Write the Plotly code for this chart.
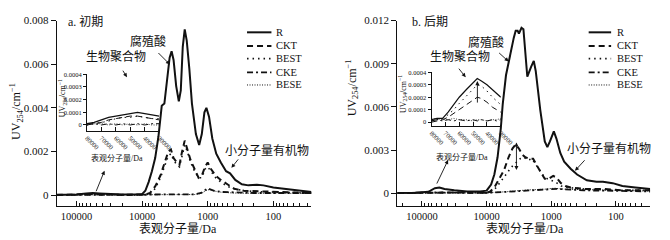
import plotly.graph_objects as go

W, H = 670, 240
FONT = "Liberation Serif, Noto Sans CJK SC, serif"
INK = "#111111"

SERIES = ["R", "CKT", "BEST", "CKE", "BESE"]
X_TICKS = [100000, 10000, 1000, 100]
X_TICKTEXT = ["100000", "10000", "1000", "100"]
YA_TICKS = [0, 0.002, 0.004, 0.006, 0.008]
YA_TICKTEXT = ["0", "0.002", "0.004", "0.006", "0.008"]
YB_TICKS = [0, 0.003, 0.006, 0.009, 0.012]
YB_TICKTEXT = ["0", "0.003", "0.006", "0.009", "0.012"]
IN_X_TICKS = [80000, 70000, 60000, 50000, 40000, 30000]
IN_X_TICKTEXT = ["80000", "70000", "60000", "50000", "40000", "30000"]
IN_Y_TICKS = [0, 0.0001, 0.0002, 0.0003, 0.0004]
IN_Y_TICKTEXT = ["0", "0.0001", "0.0002", "0.0003", "0.0004"]

# ---------------- panel a (初期), main: log10(MW/Da) and UV254 ----------------
a_R_lg = [5.30, 5.00, 4.85, 4.75, 4.65, 4.50, 4.30, 4.10, 4.00, 3.95, 3.90, 3.85, 3.80, 3.75, 3.72, 3.70, 3.66,
          3.62, 3.58, 3.55, 3.52, 3.48, 3.44, 3.41, 3.38, 3.35, 3.32, 3.28, 3.24, 3.18, 3.13, 3.09, 3.05, 3.02,
          2.98, 2.93, 2.87, 2.80, 2.72, 2.66, 2.58, 2.48, 2.38, 2.25, 2.15, 2.00, 1.80, 1.60, 1.42]
a_R = [0.00002, 0.00003, 0.00008, 0.0001, 0.00008, 0.00005, 0.00003, 0.00003, 0.00005, 0.0002, 0.0006, 0.0011,
       0.0017, 0.0027, 0.0037, 0.0041, 0.0042, 0.0052, 0.0063, 0.0066, 0.0062, 0.0050, 0.0043, 0.0048, 0.0068,
       0.0076, 0.0071, 0.0058, 0.0042, 0.0028, 0.0023, 0.0028, 0.0038, 0.0040, 0.0036, 0.0026, 0.0019, 0.0015,
       0.0011, 0.0010, 0.0007, 0.0005, 0.00045, 0.00048, 0.00045, 0.00035, 0.00028, 0.00022, 0.00015]
a_CKT_lg = [5.30, 4.75, 4.30, 4.00, 3.95, 3.88, 3.80, 3.72, 3.66, 3.60, 3.56, 3.52, 3.47, 3.43, 3.39, 3.35, 3.31,
            3.26, 3.20, 3.14, 3.09, 3.04, 3.00, 2.95, 2.88, 2.80, 2.70, 2.60, 2.45, 2.20, 2.00, 1.70, 1.42]
a_CKT = [0.00001, 0.00005, 0.00001, 0.00001, 0.00002, 0.0001, 0.0004, 0.0009, 0.0015, 0.0020, 0.0021, 0.0017,
         0.0015, 0.0014, 0.0020, 0.0025, 0.0021, 0.0016, 0.0012, 0.0008, 0.0009, 0.0013, 0.0015, 0.0012, 0.0009,
         0.0007, 0.0005, 0.0003, 0.0002, 0.00018, 0.00015, 0.00012, 0.0001]
a_BEST_lg = [5.30, 4.75, 4.30, 4.00, 3.94, 3.87, 3.80, 3.72, 3.66, 3.60, 3.56, 3.52, 3.47, 3.43, 3.39, 3.35, 3.31,
             3.26, 3.20, 3.14, 3.09, 3.04, 3.00, 2.95, 2.88, 2.80, 2.70, 2.60, 2.45, 2.20, 2.00, 1.70, 1.42]
a_BEST = [0.00001, 0.00004, 0.00001, 0.00001, 0.00002, 0.0001, 0.0003, 0.0008, 0.0013, 0.0018, 0.0019, 0.0016,
          0.0014, 0.0013, 0.0018, 0.0023, 0.0020, 0.0015, 0.0011, 0.0008, 0.0008, 0.0012, 0.0013, 0.0011, 0.0008,
          0.0006, 0.0004, 0.0003, 0.0002, 0.00016, 0.00014, 0.00011, 0.0001]
a_CKE_lg = [5.30, 4.50, 4.00, 3.50, 3.20, 3.10, 3.05, 3.01, 2.97, 2.90, 2.80, 2.60, 2.30, 2.00, 1.70, 1.42]
a_CKE = [0.00001, 0.00001, 0.00001, 0.00002, 0.00004, 0.0001, 0.0002, 0.0003, 0.00028, 0.0002, 0.00015, 0.00012,
         0.0001, 0.0001, 0.0001, 0.0001]
a_BESE_lg = [5.30, 4.50, 4.00, 3.50, 3.20, 3.10, 3.05, 3.00, 2.95, 2.88, 2.78, 2.60, 2.30, 2.00, 1.70, 1.42]
a_BESE = [0.00001, 0.00001, 0.00001, 0.00002, 0.00003, 0.00008, 0.00016, 0.00025, 0.00024, 0.00018, 0.00013,
          0.0001, 0.00009, 0.00009, 0.00008, 0.00008]

# ---------------- panel b (后期), main ----------------
b_R_lg = [5.38, 5.10, 4.90, 4.80, 4.73, 4.65, 4.50, 4.30, 4.10, 4.00, 3.98, 3.93, 3.88, 3.83, 3.78, 3.75, 3.70,
          3.67, 3.62, 3.58, 3.55, 3.52, 3.50, 3.46, 3.43, 3.40, 3.37, 3.31, 3.27, 3.24, 3.17, 3.10, 3.06, 3.02,
          2.96, 2.92, 2.86, 2.80, 2.70, 2.60, 2.45, 2.30, 2.20, 2.05, 1.90, 1.70, 1.47]
b_R = [0.00002, 0.00003, 0.0001, 0.00035, 0.0004, 0.0003, 0.0002, 0.00012, 0.00012, 0.00018, 0.0003, 0.0006,
       0.0013, 0.0025, 0.0045, 0.0062, 0.0082, 0.0089, 0.0100, 0.0108, 0.0113, 0.0113, 0.0111, 0.0115, 0.0114,
       0.0100, 0.0081, 0.0088, 0.0092, 0.0085, 0.0058, 0.0036, 0.0032, 0.0036, 0.0043, 0.0038, 0.0028, 0.0022,
       0.0017, 0.0013, 0.0009, 0.0008, 0.0008, 0.0007, 0.0005, 0.0004, 0.0003]
b_CKT_lg = [5.38, 4.80, 4.70, 4.50, 4.00, 3.95, 3.88, 3.80, 3.73, 3.66, 3.60, 3.55, 3.50, 3.45, 3.40, 3.34, 3.28,
            3.22, 3.16, 3.10, 3.04, 2.97, 2.92, 2.85, 2.78, 2.70, 2.50, 2.20, 1.90, 1.47]
b_CKT = [0.00001, 0.00005, 0.00008, 0.00005, 0.00003, 0.0001, 0.0004, 0.0010, 0.0016, 0.0025, 0.0031, 0.0034,
         0.0031, 0.0027, 0.0025, 0.0024, 0.0024, 0.0019, 0.0014, 0.0010, 0.0010, 0.0012, 0.0011, 0.0007, 0.0005,
         0.0004, 0.0003, 0.0003, 0.0002, 0.0002]
b_BEST_lg = [5.38, 4.80, 4.70, 4.50, 4.00, 3.92, 3.85, 3.78, 3.70, 3.62, 3.55, 3.48, 3.42, 3.36, 3.30, 3.24, 3.18,
             3.12, 3.06, 3.00, 2.94, 2.85, 2.75, 2.50, 2.20, 1.90, 1.47]
b_BEST = [0.00001, 0.00005, 0.00007, 0.00005, 0.00003, 0.0001, 0.0004, 0.0008, 0.0013, 0.0018, 0.0021, 0.0024,
          0.0025, 0.0023, 0.0024, 0.0020, 0.0016, 0.0012, 0.0010, 0.0009, 0.0008, 0.0005, 0.0004, 0.0003, 0.00025,
          0.0002, 0.0002]
b_CKE_lg = [5.38, 4.80, 4.00, 3.80, 3.50, 3.20, 3.00, 2.90, 2.70, 2.50, 2.20, 1.90, 1.47]
b_CKE = [0.00001, 0.00005, 0.00002, 0.00008, 0.00018, 0.00025, 0.00028, 0.0003, 0.00025, 0.0002, 0.00018,
         0.00015, 0.00012]
b_BESE_lg = [5.38, 4.80, 4.00, 3.70, 3.40, 3.10, 2.95, 2.80, 2.50, 2.20, 1.90, 1.47]
b_BESE = [0.00001, 0.00004, 0.00003, 0.0001, 0.00022, 0.00028, 0.00035, 0.00028, 0.00025, 0.0002, 0.0002, 0.00015]

# ---------------- insets (MW in Da, linear) ----------------
ia_mw = [80000, 75000, 70000, 65000, 60000, 55000, 50000, 45000, 40000, 35000, 30000]
ia_R = [0.00001, 0.00002, 0.00004, 0.00006, 0.00007, 0.00008, 0.00009, 0.0001, 0.00009, 0.00008, 0.00007]
ia_CKT = [0.0, 0.00001, 0.00002, 0.00004, 0.00005, 0.00006, 0.00007, 0.00007, 0.00006, 0.00005, 0.00004]
ia_BEST = [0.0, 0.00001, 0.00002, 0.00003, 0.00005, 0.00006, 0.00006, 0.00007, 0.00006, 0.00005, 0.00005]
ia_CKE = [0.00001, 0.00001, 0.0, 0.00001, 0.0, 0.00001, 0.0, 0.00001, 0.0, 0.00001, 0.00001]
ia_BESE = [0.0, 0.00001, 0.00001, 0.0, 0.00001, 0.0, 0.00001, 0.0, 0.00001, 0.0, 0.0]

ib_mw = [80000, 76000, 72000, 68000, 64000, 60000, 55000, 50000, 47000, 44000, 40000, 36000, 33000, 30000]
ib_R = [0.00002, 0.00003, 0.00003, 0.00008, 0.00014, 0.0002, 0.00026, 0.00032, 0.00035, 0.00033, 0.0003,
        0.00026, 0.00023, 0.0002]
ib_CKT = [0.0, 0.00001, 0.00002, 0.00004, 0.00007, 0.0001, 0.00014, 0.00018, 0.0002, 0.00019, 0.00016, 0.00012,
          0.0001, 0.00008]
ib_BEST = [0.00001, 0.00002, 0.00003, 0.00006, 0.0001, 0.00015, 0.00021, 0.00027, 0.0003, 0.00029, 0.00025,
           0.0002, 0.00017, 0.00014]
ib_CKE = [0.00001, 0.00002, 0.00001, 0.00002, 0.00001, 0.00002, 0.00001, 0.00002, 0.00001, 0.00002, 0.00001,
          0.00002, 0.00001, 0.00002]
ib_BESE = [0.00002, 0.00003, 0.00002, 0.00002, 0.00003, 0.00002, 0.00002, 0.00001, 0.00002, 0.00002, 0.00001,
           0.00002, 0.00002, 0.00003]

A_MAIN = {"R": (a_R_lg, a_R), "CKT": (a_CKT_lg, a_CKT), "BEST": (a_BEST_lg, a_BEST),
          "CKE": (a_CKE_lg, a_CKE), "BESE": (a_BESE_lg, a_BESE)}
B_MAIN = {"R": (b_R_lg, b_R), "CKT": (b_CKT_lg, b_CKT), "BEST": (b_BEST_lg, b_BEST),
          "CKE": (b_CKE_lg, b_CKE), "BESE": (b_BESE_lg, b_BESE)}
A_INSET = {"R": ia_R, "CKT": ia_CKT, "BEST": ia_BEST, "CKE": ia_CKE, "BESE": ia_BESE}
B_INSET = {"R": ib_R, "CKT": ib_CKT, "BEST": ib_BEST, "CKE": ib_CKE, "BESE": ib_BESE}

STYLE = {
    "R": dict(dash="solid", width=2.0),
    "CKT": dict(dash="6px,4px", width=2.0),
    "BEST": dict(dash="1.5px,4px", width=1.6),
    "CKE": dict(dash="6px,3px,2px,3px", width=1.8),
    "BESE": dict(dash="1px,1.5px", width=1.0),
}
INSET_W = {"R": 1.2, "CKT": 1.0, "BEST": 1.0, "CKE": 1.0, "BESE": 0.8}


def P(px, py):
    return px / W, 1 - py / H


fig = go.Figure()

for name in SERIES:
    lg, v = A_MAIN[name]
    fig.add_trace(go.Scatter(x=[10 ** t for t in lg], y=v, mode="lines", name=name, showlegend=False,
                             line=dict(color=INK, **STYLE[name]), xaxis="x", yaxis="y"))
    fig.add_trace(go.Scatter(x=ia_mw, y=A_INSET[name], mode="lines", name=name, showlegend=False,
                             line=dict(color=INK, dash=STYLE[name]["dash"], width=INSET_W[name]),
                             xaxis="x2", yaxis="y2"))
    lg, v = B_MAIN[name]
    fig.add_trace(go.Scatter(x=[10 ** t for t in lg], y=v, mode="lines", name=name, showlegend=False,
                             line=dict(color=INK, **STYLE[name]), xaxis="x3", yaxis="y3"))
    fig.add_trace(go.Scatter(x=ib_mw, y=B_INSET[name], mode="lines", name=name, showlegend=False,
                             line=dict(color=INK, dash=STYLE[name]["dash"], width=INSET_W[name]),
                             xaxis="x4", yaxis="y4"))

minor_vals = [m * 10 ** k for k in range(1, 6) for m in range(2, 10)]


def main_x(dom, anchor, rng):
    return dict(domain=dom, anchor=anchor, type="log", range=rng, showline=True, linecolor=INK, linewidth=1.2,
                ticks="inside", ticklen=5, tickcolor=INK, tickvals=X_TICKS, ticktext=X_TICKTEXT,
                minor=dict(tickvals=minor_vals, ticks="inside", ticklen=3, tickcolor=INK),
                showgrid=False, zeroline=False, tickfont=dict(size=10.5, color=INK, family=FONT))


def main_y(dom, anchor, rng, tv, tt):
    return dict(domain=dom, anchor=anchor, range=rng, showline=True, linecolor=INK, linewidth=1.2,
                ticks="outside", ticklen=5, tickcolor=INK, tickvals=tv, ticktext=tt,
                showgrid=False, zeroline=False, tickfont=dict(size=11, color=INK, family=FONT))


def inset_x(dom, anchor):
    return dict(domain=dom, anchor=anchor, range=[80000, 30000], showline=True, linecolor=INK, linewidth=1,
                ticks="inside", ticklen=4, tickcolor=INK, tickvals=IN_X_TICKS, ticktext=IN_X_TICKTEXT,
                tickangle=45, showgrid=False, zeroline=False, tickfont=dict(size=6.5, color=INK, family=FONT))


def inset_y(dom, anchor, rng):
    return dict(domain=dom, anchor=anchor, range=rng, showline=True, linecolor=INK, linewidth=1,
                ticks="outside", ticklen=3, tickcolor=INK, tickvals=IN_Y_TICKS, ticktext=IN_Y_TICKTEXT,
                showgrid=False, zeroline=False, tickfont=dict(size=6.5, color=INK, family=FONT))


fig.update_layout(
    width=W, height=H, margin=dict(l=0, r=0, t=0, b=0),
    paper_bgcolor="white", plot_bgcolor="rgba(0,0,0,0)",
    font=dict(family=FONT, color=INK, size=11),
    showlegend=False,
    xaxis=main_x([55 / W, 316 / W], "y", [5.30, 1.42]),
    yaxis=main_y([1 - 205 / H, 1 - 15 / H], "x", [-0.00049, 0.008], YA_TICKS, YA_TICKTEXT),
    xaxis2=inset_x([86 / W, 160 / W], "y2"),
    yaxis2=inset_y([1 - 128 / H, 1 - 70 / H], "x2", [-0.000046, 0.0004]),
    xaxis3=main_x([404 / W, 663 / W], "y3", [5.38, 1.47]),
    yaxis3=main_y([1 - 205 / H, 1 - 15 / H], "x3", [-0.00088, 0.012], YB_TICKS, YB_TICKTEXT),
    xaxis4=inset_x([439 / W, 510 / W], "y4"),
    yaxis4=inset_y([1 - 123 / H, 1 - 68 / H], "x4", [-0.00003, 0.0004]),
)

ann = []


def text(px, py, s, size=12, xanchor="center", angle=0):
    x, y = P(px, py)
    ann.append(dict(xref="paper", yref="paper", x=x, y=y, text=s, showarrow=False, xanchor=xanchor,
                    yanchor="middle", textangle=angle, borderpad=0,
                    font=dict(size=size, color=INK, family=FONT)))


def arrow(tail, head, both=False):
    x, y = P(*head)
    ann.append(dict(xref="paper", yref="paper", x=x, y=y, ax=tail[0] - head[0], ay=tail[1] - head[1],
                    text="", showarrow=True, arrowhead=2, arrowsize=0.9, arrowwidth=0.9, arrowcolor=INK,
                    arrowside="end+start" if both else "end", startarrowhead=2, startarrowsize=0.9))


YT = "UV<sub>254</sub>/cm<sup>−1</sup>"
XT = "表观分子量/Da"

# panel a texts
text(66, 16, "a. 初期", 12, "left")
text(149, 36, "腐殖酸", 12)
text(116, 52, "生物聚合物", 12)
text(270, 149, "小分子量有机物", 12)
text(14, 108, YT, 12, angle=-90)
text(179, 229, XT, 12)
text(61, 95, YT, 8, angle=-90)
text(117, 156, XT, 8)
arrow((158, 47), (171, 60))
arrow((122, 65), (127, 73))
arrow((242, 156), (234, 166))
arrow((95, 191), (104, 169))

# panel b texts
text(418, 16, "b. 后期", 12, "left")
text(495, 37, "腐殖酸", 12)
text(468, 52, "生物聚合物", 12)
text(621, 147, "小分子量有机物", 12)
text(358, 84, YT, 12, angle=-90)
text(535, 229, XT, 12)
text(410, 90, YT, 8, angle=-90)
text(470, 155, XT, 8)
arrow((507, 47), (518, 57))
arrow((466, 63), (474, 73))
arrow((597, 157), (586, 169))
arrow((444, 183), (456, 158))
arrow((526, 169), (526, 140), both=True)
arrow((486, 100), (486, 77))

# manual legends
shapes = []
LEG_ROWS = [27, 41, 54, 68, 81]
for (x0, x1, tx) in [(250, 275, 279), (600, 623, 628)]:
    for name, ry in zip(SERIES, LEG_ROWS):
        a0, b0 = P(x0, ry)
        a1, _ = P(x1, ry)
        shapes.append(dict(type="line", xref="paper", yref="paper", x0=a0, x1=a1, y0=b0, y1=b0,
                           line=dict(color=INK, dash=STYLE[name]["dash"], width=STYLE[name]["width"])))
        text(tx, ry, name, 10.5, "left")

fig.update_layout(annotations=ann, shapes=shapes)
fig.write_html("out.html", config={"displayModeBar": False},
               post_script="document.body.style.margin='0';document.body.style.overflow='hidden';")
